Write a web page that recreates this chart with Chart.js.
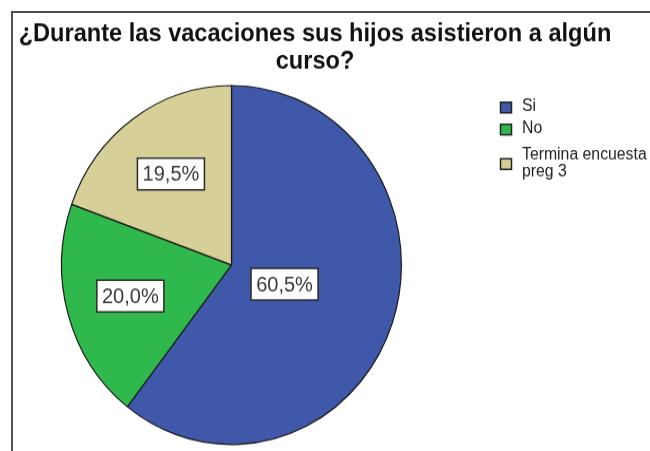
<!DOCTYPE html>
<html>
<head>
<meta charset="utf-8">
<script src="https://cdn.jsdelivr.net/npm/chart.js@4"></script>
<style>
  html, body { margin: 0; padding: 0; background: #fff; overflow: hidden; }
  #marco {
    position: absolute; left: 11px; top: 11px; width: 650px; height: 460px;
    border-top: 2px solid #505050; border-left: 2px solid #505050;
  }
  #grafico {
    position: absolute; left: 0; top: 0;
    transform: scaleY(1.0562); transform-origin: 0 0;
  }
</style>
</head>
<body>
<div id="marco"></div>
<canvas id="grafico" width="650" height="427"></canvas>
<script>
var titulo = ['¿Durante las vacaciones sus hijos asistieron a algún', 'curso?'];
var categorias = ['Si', 'No', ['Termina encuesta', 'preg 3']];
var porcentajes = [60.5, 20.0, 19.5];
var cores = ['#3f58aa', '#2fb84b', '#d6cf98'];

// posicao das etiquetas (fracao do raio) - o SPSS poe a maior mais perto do centro
var raioEtiqueta = [0.33, 0.62, 0.62];

const pluginTextos = {
    id: 'textos',
    afterDatasetsDraw(chart) {
        const ctx = chart.ctx;
        ctx.save();

        // etiquetas com caixa branca
        const arcos = chart.getDatasetMeta(0).data;
        ctx.font = '20px "Liberation Sans", Arial, sans-serif';
        ctx.textAlign = 'center';
        ctx.textBaseline = 'middle';
        arcos.forEach(function (arco, i) {
            const meio = (arco.startAngle + arco.endAngle) / 2;
            const r = arco.outerRadius * raioEtiqueta[i];
            const x = arco.x + Math.cos(meio) * r;
            const y = arco.y + Math.sin(meio) * r;
            const texto = porcentajes[i].toFixed(1).replace('.', ',') + '%';
            const w = 67, h = 30;
            ctx.fillStyle = '#ffffff';
            ctx.fillRect(x - w / 2, y - h / 2, w, h);
            ctx.strokeStyle = '#2a2a2a';
            ctx.lineWidth = 1.5;
            ctx.strokeRect(x - w / 2, y - h / 2, w, h);
            ctx.fillStyle = '#3a3a3a';
            ctx.fillText(texto, x, y + 1);
        });

        // titulo
        ctx.fillStyle = '#111111';
        ctx.font = 'bold 23.6px "Liberation Sans", Arial, sans-serif';
        ctx.fillText(titulo[0], 315, 32);
        ctx.fillText(titulo[1], 315, 58.5);

        // legenda
        ctx.font = '15.8px "Liberation Sans", Arial, sans-serif';
        ctx.textAlign = 'left';
        const topos = [101.8, 122.6, 155.3];
        categorias.forEach(function (cat, i) {
            ctx.fillStyle = cores[i];
            ctx.fillRect(500.5, topos[i] - 5, 11, 10);
            ctx.strokeStyle = '#222222';
            ctx.lineWidth = 1.5;
            ctx.strokeRect(500.5, topos[i] - 5, 11, 10);
            ctx.fillStyle = '#222222';
            const linhas = Array.isArray(cat) ? cat : [cat];
            linhas.forEach(function (l, j) {
                const y0 = topos[i] - (linhas.length - 1) * 8 + j * 16;
                ctx.fillText(l, 522, y0 - 1);
            });
        });
        ctx.restore();
    }
};

const ctx = document.getElementById('grafico').getContext('2d');
const grafico = new Chart(ctx, {
    type: 'pie',
    data: {
        labels: categorias,
        datasets: [{
            data: porcentajes,
            backgroundColor: cores,
            borderColor: '#1a1a1a',
            borderWidth: 1.2
        }]
    },
    options: {
        responsive: false,
        animation: false,
        layout: { padding: { left: 61, right: 248, top: 80.4, bottom: 5.6 } },
        plugins: {
            legend: { display: false },
            title: { display: false },
            tooltip: { enabled: false }
        }
    },
    plugins: [pluginTextos]
});
</script>
</body>
</html>
